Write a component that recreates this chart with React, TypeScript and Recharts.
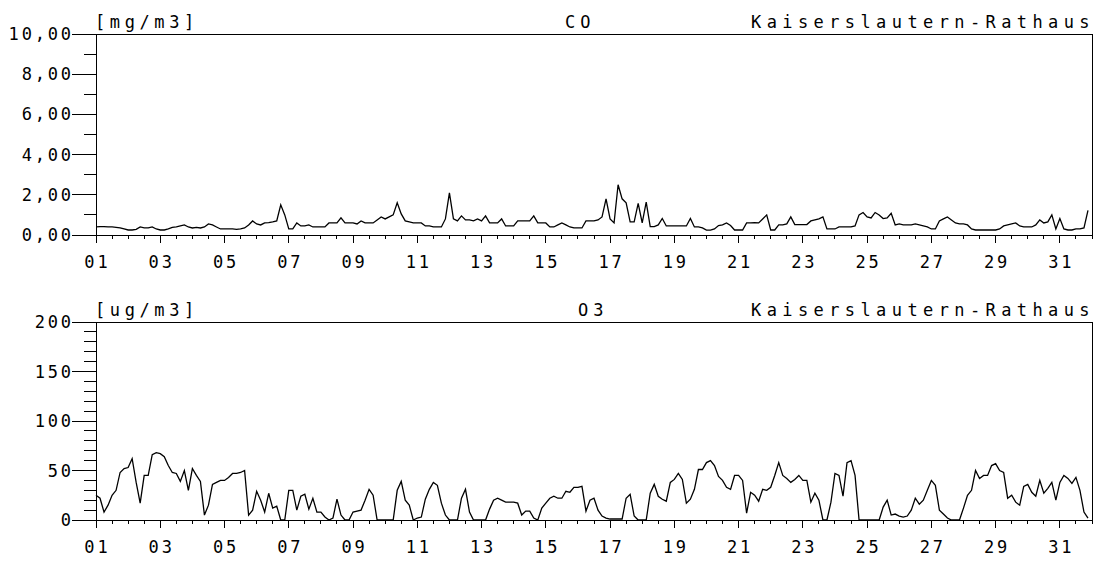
import React from 'react';
import { LineChart, Line, XAxis, YAxis, ReferenceArea } from 'recharts';

// hourly readings sampled every 3 hours, 8 values per day, 1st..31st
const CO_VALUES = [
  0.40, 0.42, 0.42, 0.40, 0.40, 0.38, 0.35, 0.30,
  0.25, 0.25, 0.28, 0.40, 0.35, 0.35, 0.40, 0.30,
  0.25, 0.25, 0.30, 0.38, 0.40, 0.45, 0.50, 0.40,
  0.35, 0.38, 0.35, 0.40, 0.55, 0.50, 0.40, 0.30,
  0.30, 0.30, 0.30, 0.28, 0.30, 0.35, 0.50, 0.70,
  0.55, 0.50, 0.60, 0.62, 0.65, 0.70, 1.50, 1.00,
  0.30, 0.30, 0.60, 0.45, 0.45, 0.50, 0.40, 0.40,
  0.40, 0.40, 0.60, 0.60, 0.60, 0.85, 0.60, 0.60,
  0.60, 0.55, 0.70, 0.60, 0.60, 0.60, 0.75, 0.90,
  0.80, 0.90, 1.00, 1.60, 1.05, 0.70, 0.65, 0.60,
  0.60, 0.60, 0.45, 0.45, 0.40, 0.40, 0.40, 0.80,
  2.10, 0.80, 0.70, 0.95, 0.75, 0.75, 0.70, 0.80,
  0.70, 0.95, 0.60, 0.60, 0.60, 0.80, 0.45, 0.45,
  0.45, 0.70, 0.70, 0.70, 0.70, 0.95, 0.60, 0.60,
  0.60, 0.40, 0.40, 0.50, 0.60, 0.50, 0.40, 0.35,
  0.35, 0.35, 0.70, 0.70, 0.70, 0.75, 0.90, 1.80,
  0.80, 0.60, 2.50, 1.80, 1.60, 0.65, 0.65, 1.57,
  0.60, 1.64, 0.42, 0.42, 0.50, 0.82, 0.45, 0.45,
  0.45, 0.45, 0.45, 0.45, 0.82, 0.40, 0.40, 0.35,
  0.24, 0.24, 0.30, 0.47, 0.50, 0.60, 0.47, 0.25,
  0.25, 0.25, 0.60, 0.60, 0.62, 0.60, 0.80, 1.00,
  0.25, 0.25, 0.50, 0.50, 0.55, 0.90, 0.52, 0.52,
  0.52, 0.52, 0.70, 0.75, 0.80, 0.90, 0.30, 0.30,
  0.30, 0.40, 0.40, 0.40, 0.40, 0.45, 1.00, 1.12,
  0.90, 0.85, 1.12, 1.00, 0.82, 0.85, 1.08, 0.50,
  0.55, 0.50, 0.50, 0.50, 0.55, 0.50, 0.45, 0.40,
  0.30, 0.30, 0.70, 0.80, 0.90, 0.75, 0.60, 0.55,
  0.55, 0.50, 0.30, 0.25, 0.25, 0.25, 0.25, 0.25,
  0.25, 0.30, 0.45, 0.50, 0.55, 0.60, 0.45, 0.40,
  0.40, 0.40, 0.50, 0.75, 0.60, 0.65, 1.00, 0.30,
  0.82, 0.30, 0.25, 0.25, 0.30, 0.30, 0.35, 1.22,
];

const O3_VALUES = [
  25, 22, 8, 15, 25, 30, 48, 52,
  53, 62, 38, 17, 45, 45, 66, 68,
  67, 64, 55, 48, 47, 39, 50, 30,
  52, 45, 39, 5, 15, 36, 38, 40,
  40, 43, 47, 47, 48, 50, 5, 10,
  29, 20, 8, 27, 12, 14, 0, 0,
  30, 30, 10, 24, 26, 11, 22, 8,
  8, 3, 0, 2, 21, 5, 0, 0,
  8, 9, 10, 20, 31, 25, 0, 0,
  0, 0, 0, 30, 39, 20, 15, 0,
  2, 3, 21, 31, 38, 35, 17, 5,
  0, 0, 0, 22, 31, 8, 0, 0,
  0, 0, 11, 20, 22, 20, 18, 18,
  18, 17, 5, 9, 9, 2, 0, 12,
  17, 22, 24, 22, 22, 29, 28, 33,
  33, 34, 9, 20, 22, 10, 4, 2,
  1, 1, 1, 1, 22, 26, 4, 0,
  0, 0, 27, 36, 24, 21, 19, 38,
  41, 47, 41, 17, 21, 31, 51, 51,
  58, 60, 55, 44, 40, 33, 31, 45,
  45, 40, 7, 28, 25, 19, 31, 30,
  33, 45, 58, 45, 42, 38, 41, 45,
  40, 40, 18, 27, 20, 0, 0, 18,
  47, 45, 24, 58, 60, 45, 0, 0,
  0, 0, 0, 0, 13, 20, 5, 6,
  4, 3, 4, 10, 22, 16, 20, 30,
  40, 35, 10, 6, 2, 0, 0, 0,
  12, 25, 30, 50, 42, 45, 45, 55,
  57, 50, 48, 22, 25, 18, 15, 34,
  36, 28, 24, 40, 27, 32, 38, 20,
  38, 45, 42, 37, 43, 30, 8, 2,
];

const DAY_LABELS = [
  '01', '03', '05', '07', '09', '11', '13', '15',
  '17', '19', '21', '23', '25', '27', '29', '31',
];
const CO_TICKS = [0, 1, 2, 3, 4, 5, 6, 7, 8, 9, 10];
const O3_TICKS = [0, 10, 20, 30, 40, 50, 60, 70, 80, 90, 100, 110, 120, 130, 140, 150, 160, 170, 180, 190, 200];

const STATION = 'Kaiserslautern-Rathaus';
const HOURS = 744;
const STEP = 3;

const data = CO_VALUES.map((co, i) => ({ h: i * STEP, co, o3: O3_VALUES[i] }));
const xTicks = Array.from({ length: HOURS / 12 + 1 }, (_, i) => i * 12);

const FONT = '"DejaVu Sans Mono", monospace';
const LS = 2.8;

const XTick = (props: any) => {
  const { x, y, payload } = props;
  const h = payload.value as number;
  const major = h % 48 === 0;
  const idx = h / 48;
  return (
    <g>
      <line x1={x} x2={x} y1={y} y2={y + (major ? 8 : 4)} stroke="#000" shapeRendering="crispEdges" />
      {major && DAY_LABELS[idx] && (
        <text x={x + LS / 2} y={y + 33} textAnchor="middle" fontFamily={FONT} fontSize={17} letterSpacing={LS} fill="#000">
          {DAY_LABELS[idx]}
        </text>
      )}
    </g>
  );
};

const makeYTick = (majorEvery: number, fmt: (v: number) => string) => (props: any) => {
  const { x, y, payload } = props;
  const v = payload.value as number;
  const major = v % majorEvery === 0;
  return (
    <g>
      <line x1={x - (major ? 24 : 12)} x2={x} y1={y} y2={y} stroke="#000" shapeRendering="crispEdges" />
      {major && (
        <text x={x - 25 + LS} y={y + 6} textAnchor="end" fontFamily={FONT} fontSize={17} letterSpacing={LS} fill="#000">
          {fmt(v)}
        </text>
      )}
    </g>
  );
};

const COTick = makeYTick(2, (v) => v.toFixed(2).replace('.', ','));
const O3Tick = makeYTick(50, (v) => String(v));

const Header = ({ unit, name, nameX, y }: { unit: string; name: string; nameX: number; y: number }) => (
  <>
    <text x={95} y={y} fontFamily={FONT} fontSize={17} letterSpacing={4.6} fill="#000">{unit}</text>
    <text x={nameX} y={y} fontFamily={FONT} fontSize={17} letterSpacing={5} fill="#000">{name}</text>
    <text x={1095} y={y} textAnchor="end" fontFamily={FONT} fontSize={17} letterSpacing={5.4} fill="#000">{STATION}</text>
  </>
);

export default function App() {
  return (
    <div style={{ position: 'absolute', left: 0, top: 0, width: 1099, height: 563, background: '#fff' }}>
      <style>{'.recharts-cartesian-axis-line, .recharts-reference-area-rect { shape-rendering: crispEdges }'}</style>
      <div style={{ position: 'absolute', left: 0, top: 0 }}>
        <LineChart width={1099} height={280} data={data} margin={{ top: 34, right: 7, bottom: 0, left: 0 }}>
          <XAxis dataKey="h" type="number" domain={[0, HOURS]} ticks={xTicks} interval={0} height={45}
            tickSize={0} tickMargin={0} tick={<XTick />} axisLine={{ stroke: '#000' }} tickLine={false} />
          <YAxis type="number" domain={[0, 10]} ticks={CO_TICKS} interval={0} width={96}
            tickSize={0} tickMargin={0} tick={<COTick />} axisLine={{ stroke: '#000' }} tickLine={false} />
          <ReferenceArea x1={0} x2={HOURS} y1={0} y2={10} fill="none" stroke="#000" strokeWidth={1} />
          <Line dataKey="co" type="linear" stroke="#000" strokeWidth={1.3} dot={false} isAnimationActive={false} />
        </LineChart>
      </div>
      <div style={{ position: 'absolute', left: 0, top: 280 }}>
        <LineChart width={1099} height={283} data={data} margin={{ top: 42, right: 7, bottom: 0, left: 0 }}>
          <XAxis dataKey="h" type="number" domain={[0, HOURS]} ticks={xTicks} interval={0} height={43}
            tickSize={0} tickMargin={0} tick={<XTick />} axisLine={{ stroke: '#000' }} tickLine={false} />
          <YAxis type="number" domain={[0, 200]} ticks={O3_TICKS} interval={0} width={96}
            tickSize={0} tickMargin={0} tick={<O3Tick />} axisLine={{ stroke: '#000' }} tickLine={false} />
          <ReferenceArea x1={0} x2={HOURS} y1={0} y2={200} fill="none" stroke="#000" strokeWidth={1} />
          <Line dataKey="o3" type="linear" stroke="#000" strokeWidth={1.3} dot={false} isAnimationActive={false} />
        </LineChart>
      </div>
      <svg width={1099} height={563} style={{ position: 'absolute', left: 0, top: 0, pointerEvents: 'none' }}>
        <Header unit="[mg/m3]" name="CO" nameX={565} y={28} />
        <Header unit="[ug/m3]" name="O3" nameX={578} y={316} />
      </svg>
    </div>
  );
}
